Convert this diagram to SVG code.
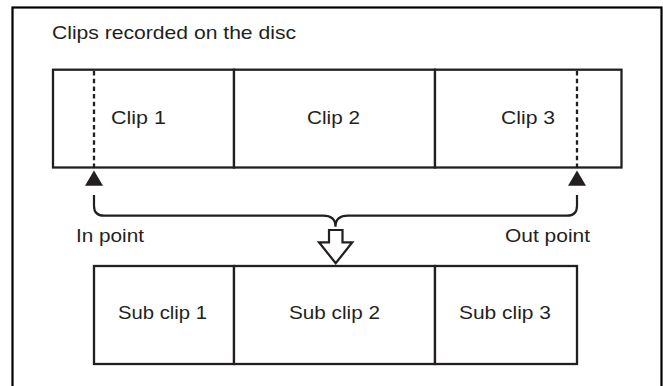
<svg xmlns="http://www.w3.org/2000/svg" width="663" height="386" viewBox="0 0 663 386">
<style>
  .box{fill:#fff;stroke:#231f20;stroke-width:2.3}
  .t{font-family:"Liberation Sans",Arial,sans-serif;font-size:18.5px;fill:#231f20}
  .dash{stroke:#231f20;stroke-width:2.3;stroke-dasharray:4.5 3.2;fill:none}
  .line{stroke:#231f20;stroke-width:2.2;fill:none}
  .tri{fill:#231f20}
</style>
<rect x="0" y="0" width="663" height="386" fill="#fff"/>
<g id="frame">
  <rect x="12.5" y="7.5" width="649" height="400" fill="none" stroke="#000" stroke-width="2.2"/>
  <text class="t" x="52" y="39" textLength="244" lengthAdjust="spacingAndGlyphs">Clips recorded on the disc</text>
</g>
<g id="clip1">
  <rect class="box" x="53" y="69.7" width="181" height="97.8"/>
  <text class="t" x="111" y="124" textLength="55" lengthAdjust="spacingAndGlyphs">Clip 1</text>
</g>
<g id="clip2">
  <rect class="box" x="234" y="69.7" width="201" height="97.8"/>
  <text class="t" x="307" y="124" textLength="53" lengthAdjust="spacingAndGlyphs">Clip 2</text>
</g>
<g id="clip3">
  <rect class="box" x="435" y="69.7" width="186.5" height="97.8"/>
  <text class="t" x="501" y="124" textLength="54" lengthAdjust="spacingAndGlyphs">Clip 3</text>
</g>
<g id="subclip1">
  <rect class="box" x="94" y="266" width="140" height="98"/>
  <text class="t" x="118" y="319" textLength="89" lengthAdjust="spacingAndGlyphs">Sub clip 1</text>
</g>
<g id="subclip2">
  <rect class="box" x="234" y="266" width="201" height="98"/>
  <text class="t" x="289" y="319" textLength="91" lengthAdjust="spacingAndGlyphs">Sub clip 2</text>
</g>
<g id="subclip3">
  <rect class="box" x="435" y="266" width="142" height="98"/>
  <text class="t" x="459" y="319" textLength="92" lengthAdjust="spacingAndGlyphs">Sub clip 3</text>
</g>
<g id="connectors">
  <line class="dash" x1="94" y1="71" x2="94" y2="167"/>
  <line class="dash" x1="577" y1="71" x2="577" y2="167"/>
  <polygon class="tri" points="94,170.5 85,185.7 103,185.7"/>
  <polygon class="tri" points="577,170.5 568,185.7 586,185.7"/>
  <path class="line" d="M94,195 V205.7 Q94,215.7 104,215.7 H323 Q335.5,215.7 335.5,226.7 Q335.5,215.7 348,215.7 H567 Q577,215.7 577,205.7 V195"/>
  <polygon fill="#fff" stroke="#231f20" stroke-width="2.2" stroke-linejoin="miter" points="329,230 342.5,230 342.5,242.3 352.3,242.3 335.7,263.3 319,242.3 329,242.3"/>
</g>
<g id="labels">
  <text class="t" x="76" y="242" textLength="68" lengthAdjust="spacingAndGlyphs">In point</text>
  <text class="t" x="505" y="242" textLength="85" lengthAdjust="spacingAndGlyphs">Out point</text>
</g>
</svg>
